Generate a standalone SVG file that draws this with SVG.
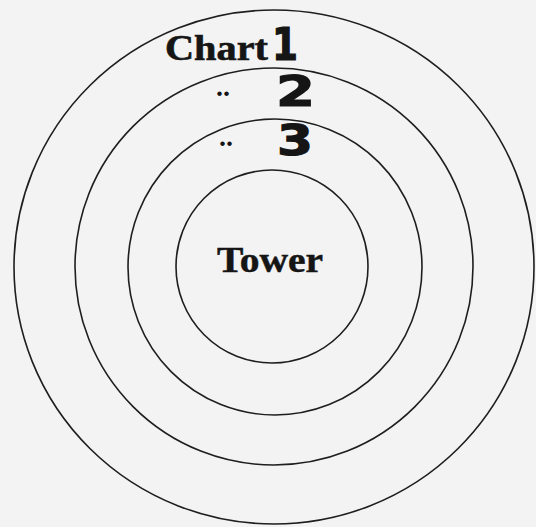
<svg xmlns="http://www.w3.org/2000/svg" width="536" height="527" viewBox="0 0 536 527">
<style>
.ring{fill:none;stroke:#1e1e1e;stroke-width:1.6}
.serif{font-family:"Liberation Serif","DejaVu Serif",serif;font-weight:bold;fill:#151515}
.num{font-family:"DejaVu Sans","Liberation Sans",sans-serif;font-weight:bold;fill:#151515;stroke:#151515;stroke-width:1.2}
</style>
<rect width="536" height="527" fill="#f3f3f3"/>
<g id="rings">
<ellipse class="ring" cx="274" cy="267" rx="260" ry="257"/>
<ellipse class="ring" cx="274" cy="266.5" rx="199" ry="198.5"/>
<ellipse class="ring" cx="275" cy="267" rx="147" ry="148"/>
<ellipse class="ring" cx="272" cy="266.5" rx="96" ry="96.5"/>
</g>
<g id="labels">
<text class="serif" x="165" y="60" font-size="35" textLength="103" lengthAdjust="spacingAndGlyphs" stroke="#151515" stroke-width="0.6">Chart</text>
<text class="num" x="272" y="60" font-size="44" textLength="26" lengthAdjust="spacingAndGlyphs">1</text>
<text class="serif" x="216" y="96" font-size="28">..</text>
<text class="num" x="276" y="106" font-size="43" textLength="39" lengthAdjust="spacingAndGlyphs">2</text>
<text class="serif" x="219" y="146" font-size="28">..</text>
<text class="num" x="277" y="155" font-size="42" textLength="36" lengthAdjust="spacingAndGlyphs">3</text>
<text class="serif" x="217" y="272" font-size="36" textLength="106" lengthAdjust="spacingAndGlyphs" stroke="#151515" stroke-width="0.5">Tower</text>
</g>
</svg>
